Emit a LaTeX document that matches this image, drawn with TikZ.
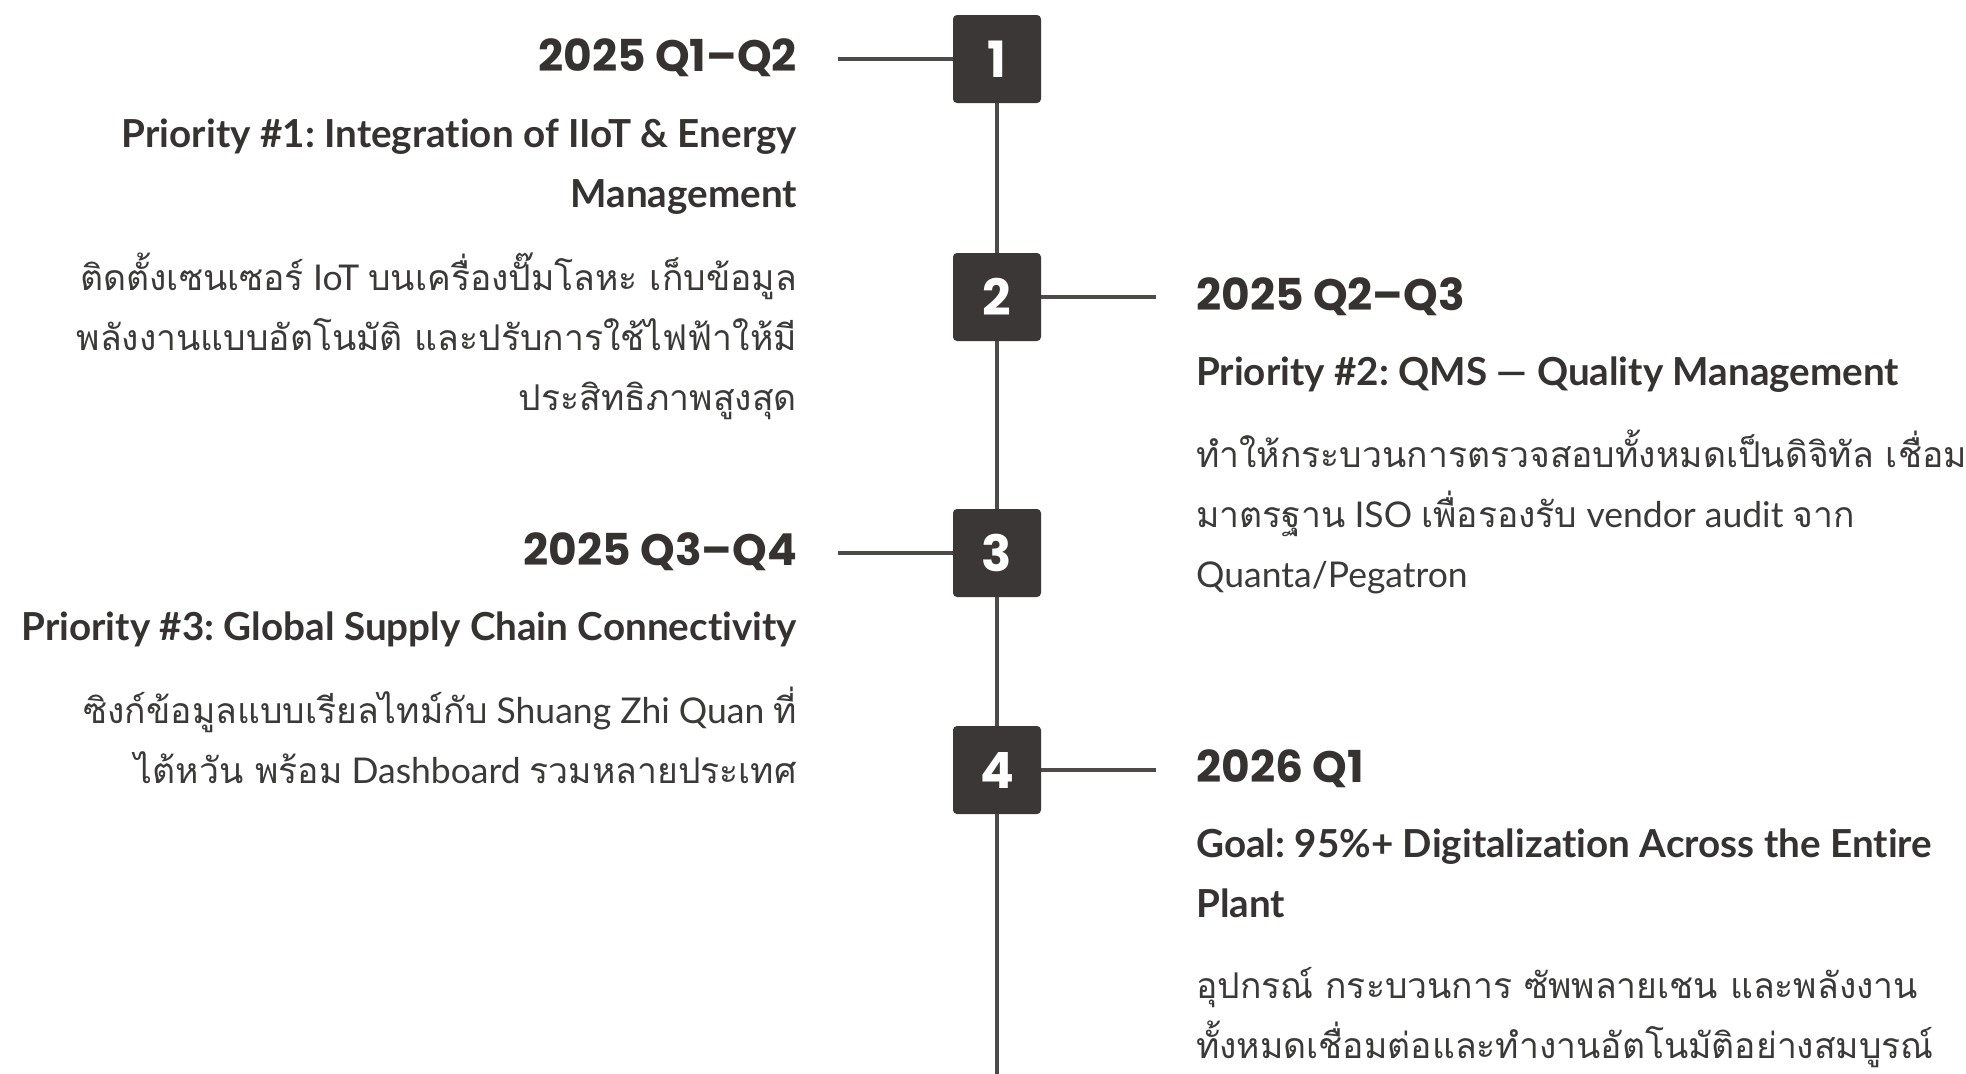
\documentclass[tikz,border=0pt]{standalone}
\usepackage{fontspec}
\setmainfont{Lato}
\newfontfamily\bodyfont{Lato}[Ligatures=NoCommon]
\newfontfamily\headfont{Poppins}
\newfontfamily\thaifont[Script=Thai]{Loma}
\newcommand\thaitxt[1]{{\thaifont #1}}
\frenchspacing
\definecolor{ink}{HTML}{363232}
\definecolor{bodyink}{HTML}{3C3A39}
\definecolor{boxfill}{HTML}{3A3736}
\definecolor{linecol}{HTML}{4D4A49}
\tikzset{
  numbox/.style={fill=boxfill, rounded corners=4pt, minimum width=88pt, minimum height=88pt, inner sep=0pt,
    text=white, font=\headfont\bfseries\fontsize{50}{50}\selectfont},
  headtxt/.style={inner sep=0pt, text=ink, font=\headfont\bfseries\fontsize{44}{50}\selectfont},
  titletxt/.style={inner sep=0pt, text=ink, font=\bodyfont\bfseries\fontsize{38.6}{60}\selectfont},
  desctxt/.style={inner sep=0pt, text=bodyink, font=\bodyfont\fontsize{35.5}{60}\selectfont},
  tline/.style={draw=linecol, line width=4pt},
  conn/.style={draw=linecol, line width=4pt},
}
\begin{document}
\begin{tikzpicture}[x=1pt,y=-1pt]
\useasboundingbox[fill=white] (0,0) rectangle (1966,1074);
% boxes
\node[numbox] (b1) at (997,59) {1};
\node[numbox] (b2) at (997,297) {2};
\node[numbox] (b3) at (997,553) {3};
\node[numbox] (b4) at (997,770) {4};
\coordinate (tlend) at (997,1074);
% block 1 (left); multi-line nodes are anchored at the baseline of their last line
\node[headtxt, anchor=base east] (h1) at (797,71) {2025 Q1–Q2};
\node[titletxt, anchor=base east, align=right] (t1) at (797,207) {Priority \#1: Integration of IIoT \& Energy\\Management};
\node[desctxt, anchor=base east, align=right] (d1) at (797,410) {\thaitxt{ติดตั้งเซนเซอร์} IoT \thaitxt{บนเครื่องปั๊มโลหะ เก็บข้อมูล}\\\thaitxt{พลังงานแบบอัตโนมัติ และปรับการใช้ไฟฟ้าให้มี}\\\thaitxt{ประสิทธิภาพสูงสุด}};
% block 2 (right)
\node[headtxt, anchor=base west] (h2) at (1196,310) {2025 Q2–Q3};
\node[titletxt, anchor=base west, align=left] (t2) at (1196,385) {Priority \#2: QMS — Quality Management};
\node[desctxt, anchor=base west, align=left] (d2) at (1196,587) {\thaitxt{ทำให้กระบวนการตรวจสอบทั้งหมดเป็นดิจิทัล เชื่อม}\\\thaitxt{มาตรฐาน} ISO \thaitxt{เพื่อรองรับ} vendor audit \thaitxt{จาก}\\Quanta/Pegatron};
% block 3 (left)
\node[headtxt, anchor=base east] (h3) at (797,565) {2025 Q3–Q4};
\node[titletxt, anchor=base east, align=right] (t3) at (797,640) {Priority \#3: Global Supply Chain Connectivity};
\node[desctxt, anchor=base east, align=right] (d3) at (797,783) {\thaitxt{ซิงก์ข้อมูลแบบเรียลไทม์กับ} Shuang Zhi Quan \thaitxt{ที่}\\\thaitxt{ไต้หวัน พร้อม} Dashboard \thaitxt{รวมหลายประเทศ}};
% block 4 (right)
\node[headtxt, anchor=base west] (h4) at (1196,782) {2026 Q1};
\node[titletxt, anchor=base west, align=left] (t4) at (1196,917) {Goal: 95\%+ Digitalization Across the Entire\\Plant};
\node[desctxt, anchor=base west, align=left] (d4) at (1196,1058) {\thaitxt{อุปกรณ์ กระบวนการ ซัพพลายเชน และพลังงาน}\\\thaitxt{ทั้งหมดเชื่อมต่อและทำงานอัตโนมัติอย่างสมบูรณ์}};
% timeline
\draw[tline] (b1.south) -- (b2.north);
\draw[tline] (b2.south) -- (b3.north);
\draw[tline] (b3.south) -- (b4.north);
\draw[tline] (b4.south) -- (tlend);
% connectors
\draw[conn, shorten >=41pt] (b1.west) -- (b1.west -| h1.east);
\draw[conn, shorten >=40pt] (b2.east) -- (b2.east -| h2.west);
\draw[conn, shorten >=41pt] (b3.west) -- (b3.west -| h3.east);
\draw[conn, shorten >=40pt] (b4.east) -- (b4.east -| h4.west);
\end{tikzpicture}
\end{document}
